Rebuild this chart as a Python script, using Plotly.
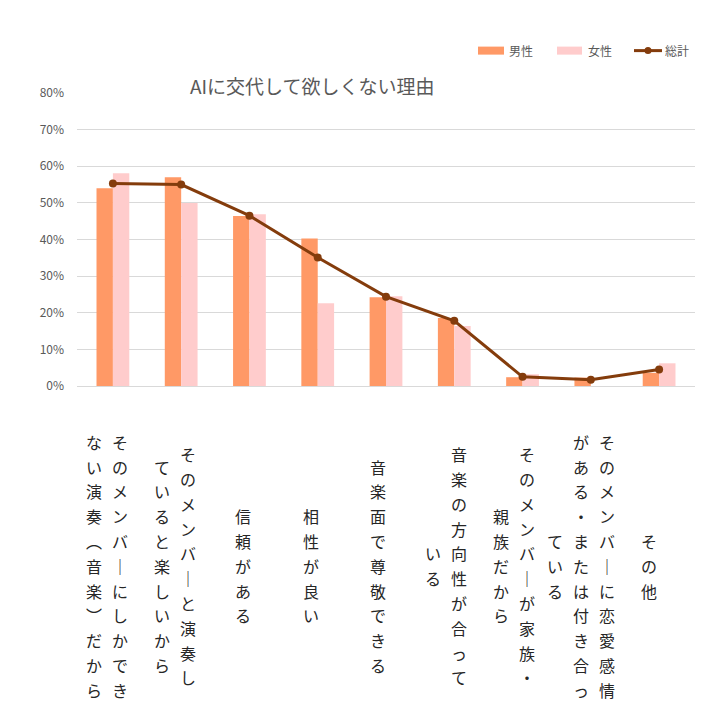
import plotly.graph_objects as go

# ---------------- data ----------------
categories = [
    "そのメンバーにしかできない演奏（音楽）だから",
    "そのメンバーと演奏していると楽しいから",
    "信頼がある",
    "相性が良い",
    "音楽面で尊敬できる",
    "音楽の方向性が合っている",
    "そのメンバーが家族・親族だから",
    "そのメンバーに恋愛感情がある・または付き合っている",
    "その他",
]
# tick labels as displayed (\n = column break in vertical text)
tick_labels = [
    "そのメンバーにしかでき\nない演奏（音楽）だから",
    "そのメンバーと演奏し\nていると楽しいから",
    "信頼がある",
    "相性が良い",
    "音楽面で尊敬できる",
    "音楽の方向性が合って\nいる",
    "そのメンバーが家族・\n親族だから",
    "そのメンバーに恋愛感情\nがある・または付き合っ\nている",
    "その他",
]
male = [0.540, 0.570, 0.464, 0.403, 0.242, 0.186, 0.024, 0.023, 0.036]
female = [0.581, 0.500, 0.469, 0.226, 0.245, 0.164, 0.032, 0.0, 0.062]
total = [0.553, 0.550, 0.465, 0.351, 0.244, 0.178, 0.025, 0.017, 0.045]
series_names = ["男性", "女性", "総計"]
title_text = "AIに交代して欲しくない理由"
y_ticks = [0, 0.1, 0.2, 0.3, 0.4, 0.5, 0.6, 0.7, 0.8]

# ---------------- style ----------------
C_MALE = "#FF9966"
C_FEMALE = "#FFCCCC"
C_TOTAL = "#843C0C"
C_GRID = "#D9D9D9"
C_TEXT = "#595959"
C_LABEL = "#262626"
FONT = "Noto Sans CJK JP"

W, H = 716, 708
L, R, T = 77, 695, 93.3
B = 385.7
PW, PH = R - L, B - T


def px(xp):
    return (xp - L) / PW


def py(yp):
    return (B - yp) / PH


fig = go.Figure()
fig.add_trace(go.Bar(x=categories, y=male, name=series_names[0],
                     marker=dict(color=C_MALE, line=dict(width=0)), showlegend=False))
fig.add_trace(go.Bar(x=categories, y=female, name=series_names[1],
                     marker=dict(color=C_FEMALE, line=dict(width=0)), showlegend=False))
fig.add_trace(go.Scatter(x=categories, y=total, name=series_names[2], mode="lines+markers",
                         line=dict(color=C_TOTAL, width=3),
                         marker=dict(color=C_TOTAL, size=8), showlegend=False))

annotations = []
# vertical category labels, one glyph per annotation (vertical forms for a few glyphs)
vert_map = {"ー": "｜", "（": "︵", "）": "︶"}
PITCH = 24.8
CENTER_Y = 565.5
COL_GAP = 26
for i, lab in enumerate(tick_labels):
    cols = lab.split("\n")
    n = len(cols)
    center_off = -5.5 - 0.55 * i
    for j, col in enumerate(cols):
        xoff = center_off + ((n - 1) / 2 - j) * COL_GAP
        m = len(col)
        for k, ch in enumerate(col):
            yimg = CENTER_Y + (k - (m - 1) / 2) * PITCH
            annotations.append(dict(
                x=categories[i], xref="x", y=0, yref="paper",
                xshift=xoff, yshift=-(yimg - B),
                text=vert_map.get(ch, ch), showarrow=False,
                xanchor="center", yanchor="middle",
                font=dict(family=FONT, size=16, color=C_LABEL)))

# title
annotations.append(dict(x=px(188), xref="paper", y=py(86), yref="paper",
                        text=title_text, showarrow=False, xanchor="left", yanchor="middle",
                        font=dict(family=FONT, size=19, color=C_TEXT)))

# custom legend
shapes = []
LEG_Y = 51
leg_items = [
    (series_names[0], "rect", C_MALE, 478, 504, 507),
    (series_names[1], "rect", C_FEMALE, 557, 582, 586),
    (series_names[2], "line", C_TOTAL, 634, 662, 663),
]
for name, kind, col, x0, x1, tx in leg_items:
    if kind == "rect":
        shapes.append(dict(type="rect", xref="paper", yref="paper",
                           x0=px(x0), x1=px(x1), y0=py(LEG_Y + 4), y1=py(LEG_Y - 4),
                           fillcolor=col, line=dict(width=0)))
    else:
        shapes.append(dict(type="line", xref="paper", yref="paper",
                           x0=px(x0), x1=px(x1), y0=py(LEG_Y), y1=py(LEG_Y),
                           line=dict(color=col, width=3)))
        cx = (x0 + x1) / 2
        shapes.append(dict(type="circle", xref="paper", yref="paper",
                           x0=px(cx - 3.5), x1=px(cx + 3.5), y0=py(LEG_Y + 3.5), y1=py(LEG_Y - 3.5),
                           fillcolor=col, line=dict(width=0)))
    annotations.append(dict(x=px(tx), xref="paper", y=py(LEG_Y), yref="paper",
                            text=name, showarrow=False, xanchor="left", yanchor="middle",
                            font=dict(family=FONT, size=12, color=C_TEXT)))

fig.update_layout(
    width=W, height=H,
    margin=dict(l=L, r=W - R, t=T, b=H - B, pad=0),
    paper_bgcolor="white", plot_bgcolor="white",
    barmode="group", bargap=0.52, bargroupgap=0,
    showlegend=False,
    font=dict(family=FONT, color=C_TEXT),
    annotations=annotations, shapes=shapes,
    xaxis=dict(showticklabels=False, showgrid=False, zeroline=False,
               showline=True, linecolor=C_GRID, linewidth=1, ticks=""),
    yaxis=dict(range=[0, 0.8], tickvals=y_ticks, tickformat=".0%",
               showgrid=True, gridcolor=C_GRID, gridwidth=1, zeroline=False,
               showline=False, ticks="", ticklabelstandoff=12,
               tickfont=dict(family=FONT, size=12, color=C_TEXT)),
)

fig.write_html("out.html",
               config={"displayModeBar": False},
               post_script="document.body.style.margin='0px';document.body.style.overflow='hidden';")
